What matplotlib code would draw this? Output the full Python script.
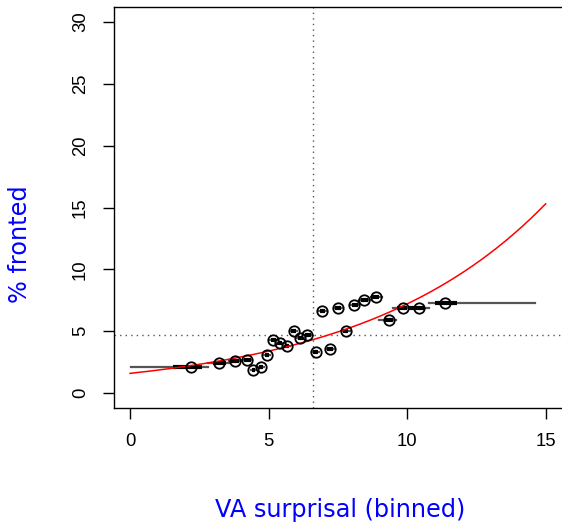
"""binned fronting rate vs VA surprisal"""

import numpy as np
import matplotlib
matplotlib.use('Agg')
import matplotlib.pyplot as plt

# bin means (x), observed % fronted (y)
surprisal = [2.2, 3.2, 3.8, 4.22, 4.44, 4.73, 4.95, 5.16, 5.42, 5.67, 5.9, 6.14,
             6.4, 6.71, 6.93, 7.2, 7.5, 7.78, 8.1, 8.45, 8.88, 9.35, 9.86, 10.42, 11.36]
fronted = [2.1, 2.4, 2.62, 2.64, 1.9, 2.1, 3.06, 4.27, 4.03, 3.79, 5.0, 4.45,
           4.72, 3.3, 6.6, 3.55, 6.85, 5.0, 7.15, 7.55, 7.78, 5.9, 6.9, 6.9, 7.25]
# range of each bin (thin line) and inner part (thick line)
bin_lo = [0.05, 2.8, 3.58, 4.03, 4.36, 4.6, 4.84, 5.05, 5.3, 5.55, 5.78, 6.02,
          6.28, 6.58, 6.82, 7.08, 7.36, 7.64, 7.95, 8.28, 8.68, 9.0, 9.5, 10.0, 10.8]
bin_hi = [2.83, 3.6, 4.03, 4.4, 4.55, 4.84, 5.05, 5.3, 5.55, 5.78, 6.02, 6.28,
          6.58, 6.82, 7.08, 7.36, 7.64, 7.95, 8.28, 8.68, 9.1, 9.6, 10.1, 10.8, 14.6]
q_lo = [1.55, 2.98, 3.66, 4.1, 4.4, 4.66, 4.88, 5.08, 5.33, 5.58, 5.8, 6.05,
        6.3, 6.6, 6.84, 7.1, 7.4, 7.68, 8.0, 8.33, 8.73, 9.15, 9.65, 10.05, 11.0]
q_hi = [2.6, 3.45, 3.95, 4.35, 4.5, 4.8, 5.02, 5.25, 5.5, 5.75, 5.98, 6.24,
        6.52, 6.8, 7.03, 7.32, 7.6, 7.88, 8.22, 8.6, 9.0, 9.5, 10.0, 10.65, 11.8]

# fitted curve coefficients and reference lines
fit_a, fit_b = 1.6, 0.1505
mean_surprisal = 6.61
mean_fronted = 4.68

plt.rcParams['font.family'] = ['Liberation Sans', 'DejaVu Sans']

fig = plt.figure(figsize=(5.62, 5.25), dpi=100)
ax = fig.add_axes([114 / 562, 117 / 525, 451 / 562, 401 / 525])

xs = np.linspace(0, 15, 200)
ax.plot(xs, fit_a * np.exp(fit_b * xs), color='red', lw=1.1, zorder=4)

ax.axvline(mean_surprisal, color='#555555', ls=(0, (1, 3)), lw=1)
ax.axhline(mean_fronted, color='#555555', ls=(0, (1, 3)), lw=1)

for x, y, lo, hi, ql, qh in zip(surprisal, fronted, bin_lo, bin_hi, q_lo, q_hi):
    ax.plot([lo, hi], [y, y], color='#555555', lw=1.6, zorder=2)
    ax.plot([ql, qh], [y, y], color='black', lw=3, zorder=3, solid_capstyle='butt')
ax.plot(surprisal, fronted, 'o', mfc='none', mec='black', mew=1.3, ms=7.5, zorder=5)

ax.set_xlim(-0.58, 15.7)
ax.set_ylim(-1.2, 31.2)
ax.set_xticks([0, 5, 10, 15])
ax.set_yticks([0, 5, 10, 15, 20, 25, 30])
ax.tick_params(direction='out', length=8, width=1, labelsize=13.3, pad=10)
for lab in ax.get_yticklabels():
    lab.set_rotation(90)
    lab.set_va('center')
for s in ax.spines.values():
    s.set_linewidth(1.0)

fig.text(340 / 562, 1 - 510 / 525, 'VA surprisal (binned)', color='blue',
         fontsize=17.3, family='DejaVu Sans', ha='center', va='center')
fig.text(20 / 562, 1 - 244 / 525, '% fronted', color='blue', rotation=90,
         fontsize=17.3, family='DejaVu Sans', ha='center', va='center')

fig.savefig('out.png', dpi=100)
